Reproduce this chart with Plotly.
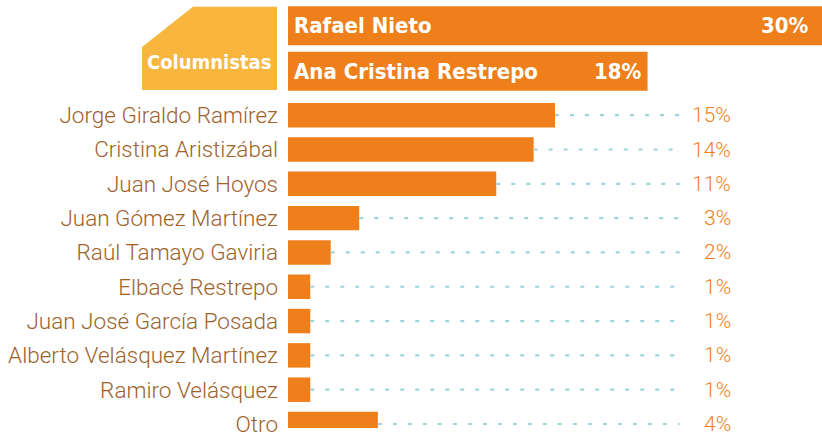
import plotly.graph_objects as go
from plotly.subplots import make_subplots

# ---- data ----
featured_names = ["Rafael Nieto", "Ana Cristina Restrepo"]
featured_shares = ["30%", "18%"]
featured_lengths = [30.0, 20.2]

names = ["Jorge Giraldo Ramírez", "Cristina Aristizábal", "Juan José Hoyos",
         "Juan Gómez Martínez", "Raúl Tamayo Gaviria", "Elbacé Restrepo",
         "Juan José García Posada", "Alberto Velásquez Martínez",
         "Ramiro Velásquez", "Otro"]
shares = ["15%", "14%", "11%", "3%", "2%", "1%", "1%", "1%", "1%", "4%"]
lengths = [15.0, 13.8, 11.7, 4.0, 2.4, 1.25, 1.25, 1.25, 1.25, 5.05]

group_title = "Columnistas"

# ---- style ----
ORANGE = "#ef7f1a"
YELLOW = "#f8b63f"
BROWN = "#a0622b"
DOT = "#9dd5df"
COND = "DejaVu Sans Condensed, Liberation Sans Narrow, sans-serif"
THIN = "Roboto, Lato, DejaVu Sans, sans-serif"
W, H = 822, 437
L = 288
X_MAX = 30.0
LINE_END = 22.0
PCT_X = 25.0
PCT_SHIFTS = [-11, -4]

fig = make_subplots(rows=2, cols=1, shared_xaxes=False, vertical_spacing=0)

fig.add_trace(go.Bar(x=featured_lengths, y=featured_names, orientation="h",
                     marker=dict(color=ORANGE, line=dict(width=0)),
                     hoverinfo="skip", showlegend=False), row=1, col=1)
fig.add_trace(go.Bar(x=lengths, y=names, orientation="h", width=0.714,
                     marker=dict(color=ORANGE, line=dict(width=0)),
                     hoverinfo="skip", showlegend=False), row=2, col=1)

# dotted leader lines
for n, ln in zip(names, lengths):
    fig.add_trace(go.Scatter(x=[ln, LINE_END], y=[n, n], mode="lines",
                             line=dict(color=DOT, width=2.2, dash="4px,11px"),
                             hoverinfo="skip", showlegend=False), row=2, col=1)

# percentage labels
for n, s in zip(names, shares):
    fig.add_annotation(x=PCT_X, y=n, xref="x2", yref="y2", text=s, showarrow=False,
                       xanchor="right", yanchor="middle",
                       font=dict(family=THIN, size=21, color=ORANGE, weight=300))

# featured labels inside bars
for n, s, ln, sh in zip(featured_names, featured_shares, featured_lengths, PCT_SHIFTS):
    fig.add_annotation(x=0, y=n, xref="x", yref="y", text=n, showarrow=False,
                       xanchor="left", yanchor="middle", xshift=4,
                       font=dict(family=COND, size=22, color="white", weight="bold"))
    fig.add_annotation(x=ln, y=n, xref="x", yref="y", text=s, showarrow=False,
                       xanchor="right", yanchor="middle", xshift=sh,
                       font=dict(family=COND, size=22, color="white", weight="bold"))

# "Columnistas" tag shape
pw = W - L
def px(x):
    return (x - L) / pw
def py(y):
    return 1 - y / H
path = "M {} {} L {} {} L {} {} L {} {} L {} {} Z".format(
    px(193), py(7), px(277), py(7), px(277), py(92), px(142), py(92), px(142), py(48))
fig.add_shape(type="path", path=path, xref="paper", yref="paper",
              fillcolor=YELLOW, line=dict(width=0), layer="below")
fig.add_annotation(x=px(209), y=py(63), xref="paper", yref="paper", text=group_title,
                   showarrow=False, xanchor="center", yanchor="middle",
                   font=dict(family=COND, size=20, color="white", weight="bold"))

fig.update_layout(
    width=W, height=H,
    margin=dict(l=L, r=0, t=0, b=0),
    paper_bgcolor="white", plot_bgcolor="white",
    bargap=0.14,
    showlegend=False,
)
fig.update_xaxes(range=[0, X_MAX], visible=False, showgrid=False, zeroline=False, fixedrange=True)

fig.update_yaxes(row=1, col=1, domain=[py(96), py(3)], autorange=False,
                 range=[1.5, -0.5], showticklabels=False, showgrid=False,
                 zeroline=False, showline=False, ticks="")
fig.update_yaxes(row=2, col=1, domain=[0, py(100.1)], autorange=False,
                 range=[9.117, -0.5], showgrid=False, zeroline=False, showline=False,
                 ticks="", ticklabelstandoff=9,
                 tickfont=dict(family=THIN, size=22.5, color=BROWN, weight=300))

fig.write_html("out.html", config={"displayModeBar": False},
               post_script="document.body.style.margin='0';document.body.style.overflow='hidden';")
